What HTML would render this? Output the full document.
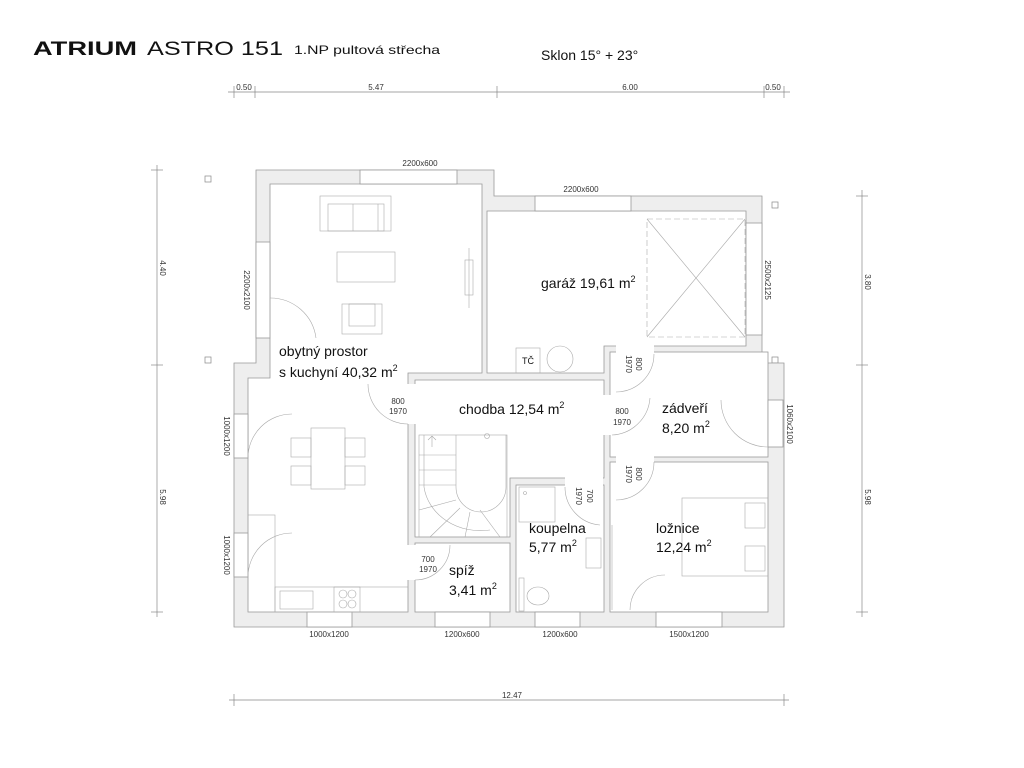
<!DOCTYPE html>
<html><head><meta charset="utf-8"><style>
body{margin:0;background:#fff;}
svg{display:block;font-family:"Liberation Sans",sans-serif;}
</style></head><body>
<svg width="1024" height="768" viewBox="0 0 1024 768">
<rect width="1024" height="768" fill="#fff"/>
<!-- title -->
<text x="33" y="55" font-size="19" fill="#111" font-weight="bold" textLength="104" lengthAdjust="spacingAndGlyphs">ATRIUM</text>
<text x="147" y="55" font-size="19" fill="#111" textLength="136" lengthAdjust="spacingAndGlyphs">ASTRO 151</text>
<text x="294" y="54" font-size="12" fill="#111" textLength="146" lengthAdjust="spacingAndGlyphs">1.NP  pultová střecha</text>
<text x="541" y="60" font-size="14" fill="#111">Sklon 15° + 23°</text>
<!-- dims -->
<g stroke="#888" stroke-width="0.7" fill="none">
<line x1="228" y1="92" x2="790" y2="92"/>
<g><line x1="234" y1="86" x2="234" y2="98"/><line x1="255" y1="86" x2="255" y2="98"/><line x1="497" y1="86" x2="497" y2="98"/><line x1="764" y1="86" x2="764" y2="98"/><line x1="784" y1="86" x2="784" y2="98"/></g>
<line x1="157" y1="165" x2="157" y2="617"/>
<line x1="151" y1="170" x2="163" y2="170"/><line x1="151" y1="365" x2="163" y2="365"/><line x1="151" y1="612" x2="163" y2="612"/>
<line x1="862" y1="190" x2="862" y2="617"/>
<line x1="856" y1="196" x2="868" y2="196"/><line x1="856" y1="365" x2="868" y2="365"/><line x1="856" y1="612" x2="868" y2="612"/>
<line x1="229" y1="700" x2="789" y2="700"/>
<line x1="234" y1="694" x2="234" y2="706"/><line x1="784" y1="694" x2="784" y2="706"/>
<rect x="205" y="176" width="6" height="6"/><rect x="205" y="357" width="6" height="6"/><rect x="772" y="202" width="6" height="6"/><rect x="772" y="357" width="6" height="6"/>
</g>
<g font-size="8" fill="#333" text-anchor="middle">
<text x="244" y="90">0.50</text><text x="376" y="90">5.47</text><text x="630" y="90">6.00</text><text x="773" y="90">0.50</text>
<text x="512" y="698">12.47</text>
<text transform="translate(160,268) rotate(90)">4.40</text>
<text transform="translate(160,497) rotate(90)">5.98</text>
<text transform="translate(865,282) rotate(90)">3.80</text>
<text transform="translate(865,497) rotate(90)">5.98</text>
</g>
<!-- walls -->
<polygon points="256,170 494,170 494,196 762,196 762,363 784,363 784,627 234,627 234,363 256,363" fill="#eeeeee" stroke="#999" stroke-width="0.8"/>
<g fill="#fff" stroke="#999" stroke-width="0.8">
<polygon points="270,184 482,184 482,373 408,373 408,612 248,612 248,378 270,378"/>
<polygon points="487,211 746,211 746,346 604,346 604,373 487,373"/>
<polygon points="415,380 604,380 604,478 510,478 510,537 415,537"/>
<rect x="415" y="543" width="95" height="69"/>
<rect x="516" y="485" width="88" height="127"/>
<rect x="610" y="352" width="158" height="105"/>
<rect x="610" y="462" width="158" height="150"/>
<!-- windows -->
<rect x="360" y="170" width="97" height="14"/>
<rect x="535" y="196" width="96" height="15"/>
<rect x="256" y="242" width="14" height="96"/>
<rect x="234" y="414" width="14" height="44"/>
<rect x="234" y="533" width="14" height="44"/>
<rect x="307" y="612" width="45" height="15"/>
<rect x="435" y="612" width="55" height="15"/>
<rect x="535" y="612" width="45" height="15"/>
<rect x="656" y="612" width="66" height="15"/>
<rect x="768" y="400" width="15" height="47"/>
<rect x="746" y="223" width="16" height="112"/>
</g>
<!-- door openings (white gaps) -->
<g fill="#fff" stroke="none">
<rect x="407" y="384" width="10" height="40"/>
<rect x="603" y="395" width="9" height="40"/>
<rect x="616" y="345" width="38" height="9"/>
<rect x="616" y="456" width="38" height="8"/>
<rect x="407" y="545" width="10" height="35"/>
<rect x="565" y="477" width="38" height="10"/>
</g>
<g fill="none" stroke="#aaa" stroke-width="0.6">
<path d="M270,298 A46,46 0 0 1 316,338"/><line x1="270" y1="298" x2="270" y2="338"/>
<path d="M408,424 A40,40 0 0 1 368,384"/>
<path d="M612,435 A40,40 0 0 0 650,398"/>
<path d="M616,392 A38,38 0 0 0 654,354"/>
<path d="M616,500 A38,38 0 0 0 654,462"/>
<path d="M415,580 A35,35 0 0 0 450,545"/>
<path d="M600,525 A38,38 0 0 1 565,487"/>
<path d="M768,447 A47,47 0 0 1 721,400"/>
<path d="M248,458 A44,44 0 0 1 292,414"/>
<path d="M248,577 A44,44 0 0 1 292,533"/>
<!-- garage car -->
<rect x="647" y="219" width="98" height="118" stroke-dasharray="6,3"/>
<line x1="647" y1="219" x2="745" y2="337"/><line x1="745" y1="219" x2="647" y2="337"/>
<!-- furniture living -->
<rect x="320" y="196" width="71" height="35"/><rect x="328" y="204" width="56" height="27"/>
<line x1="353" y1="204" x2="353" y2="231"/><line x1="378" y1="204" x2="378" y2="231"/>
<rect x="337" y="252" width="58" height="30"/>
<rect x="342" y="304" width="40" height="30"/><rect x="349" y="304" width="26" height="22"/>
<rect x="465" y="260" width="8" height="35"/><line x1="469" y1="248" x2="469" y2="308"/>
<rect x="311" y="428" width="34" height="61"/>
<rect x="291" y="438" width="20" height="19"/><rect x="291" y="466" width="20" height="19"/>
<rect x="345" y="438" width="20" height="19"/><rect x="345" y="466" width="20" height="19"/>
<rect x="248" y="515" width="27" height="97"/>
<rect x="275" y="587" width="133" height="25"/>
<rect x="280" y="591" width="33" height="18"/><rect x="334" y="587" width="26" height="25"/>
<circle cx="343" cy="594" r="4"/><circle cx="352" cy="594" r="4"/><circle cx="343" cy="604" r="4"/><circle cx="352" cy="604" r="4"/>
<!-- stairs -->
<rect x="419" y="435" width="88" height="102"/>
<path d="M456,435 V487 A25,25 0 0 0 506,487 V435" />
<path d="M424,435 V487 A57,50 0 0 0 490,530"/>
<line x1="419" y1="470" x2="456" y2="470"/><line x1="419" y1="485" x2="456" y2="485"/><line x1="419" y1="455" x2="456" y2="455"/>
<line x1="456" y1="500" x2="419" y2="510"/><line x1="460" y1="508" x2="430" y2="537"/><line x1="470" y1="512" x2="465" y2="537"/><line x1="480" y1="510" x2="500" y2="537"/>
<circle cx="487" cy="436" r="2.5"/>
<path d="M432,447 V436 M428,440 L432,436 L436,440"/>
<!-- TC -->
<rect x="516" y="348" width="24" height="25"/><circle cx="560" cy="359" r="13"/>
<!-- bathroom -->
<rect x="519" y="487" width="36" height="35"/><circle cx="525" cy="493" r="1.5"/>
<rect x="586" y="538" width="15" height="30"/>
<ellipse cx="538" cy="596" rx="11" ry="9"/><rect x="519" y="578" width="5" height="33"/>
<!-- bedroom -->
<rect x="682" y="498" width="86" height="78"/>
<rect x="745" y="503" width="20" height="25"/><rect x="745" y="546" width="20" height="25"/>
<line x1="612" y1="525" x2="612" y2="610"/>
<path d="M630,610 A35,35 0 0 1 665,575"/>
</g>
<!-- labels -->
<g font-size="14" fill="#111">
<text x="279" y="356">obytný prostor</text>
<text x="279" y="377">s kuchyní 40,32 m<tspan font-size="9" dy="-6">2</tspan></text>
<text x="541" y="288">garáž 19,61 m<tspan font-size="9" dy="-6">2</tspan></text>
<text x="459" y="414">chodba 12,54 m<tspan font-size="9" dy="-6">2</tspan></text>
<text x="662" y="413">zádveří</text>
<text x="662" y="433">8,20 m<tspan font-size="9" dy="-6">2</tspan></text>
<text x="529" y="533">koupelna</text>
<text x="529" y="552">5,77 m<tspan font-size="9" dy="-6">2</tspan></text>
<text x="656" y="533">ložnice</text>
<text x="656" y="552">12,24 m<tspan font-size="9" dy="-6">2</tspan></text>
<text x="449" y="575">spíž</text>
<text x="449" y="595">3,41 m<tspan font-size="9" dy="-6">2</tspan></text>
<text x="522" y="364" font-size="9">TČ</text>
</g>
<g font-size="8" fill="#333" text-anchor="middle">
<text x="420" y="166">2200x600</text>
<text x="581" y="192">2200x600</text>
<text x="329" y="637">1000x1200</text>
<text x="462" y="637">1200x600</text>
<text x="560" y="637">1200x600</text>
<text x="689" y="637">1500x1200</text>
<text transform="translate(244,290) rotate(90)">2200x2100</text>
<text transform="translate(765,280) rotate(90)">2500x2125</text>
<text transform="translate(787,424) rotate(90)">1060x2100</text>
<text transform="translate(224,436) rotate(90)">1000x1200</text>
<text transform="translate(224,555) rotate(90)">1000x1200</text>
<text x="398" y="404">800</text><text x="398" y="414">1970</text>
<text x="622" y="414">800</text><text x="622" y="425">1970</text>
<text x="428" y="562">700</text><text x="428" y="572">1970</text>
<text transform="translate(636,364) rotate(90)">800</text>
<text transform="translate(626,364) rotate(90)">1970</text>
<text transform="translate(636,474) rotate(90)">800</text>
<text transform="translate(626,474) rotate(90)">1970</text>
<text transform="translate(587,496) rotate(90)">700</text>
<text transform="translate(576,496) rotate(90)">1970</text>
</g>
</svg>
</body></html>
